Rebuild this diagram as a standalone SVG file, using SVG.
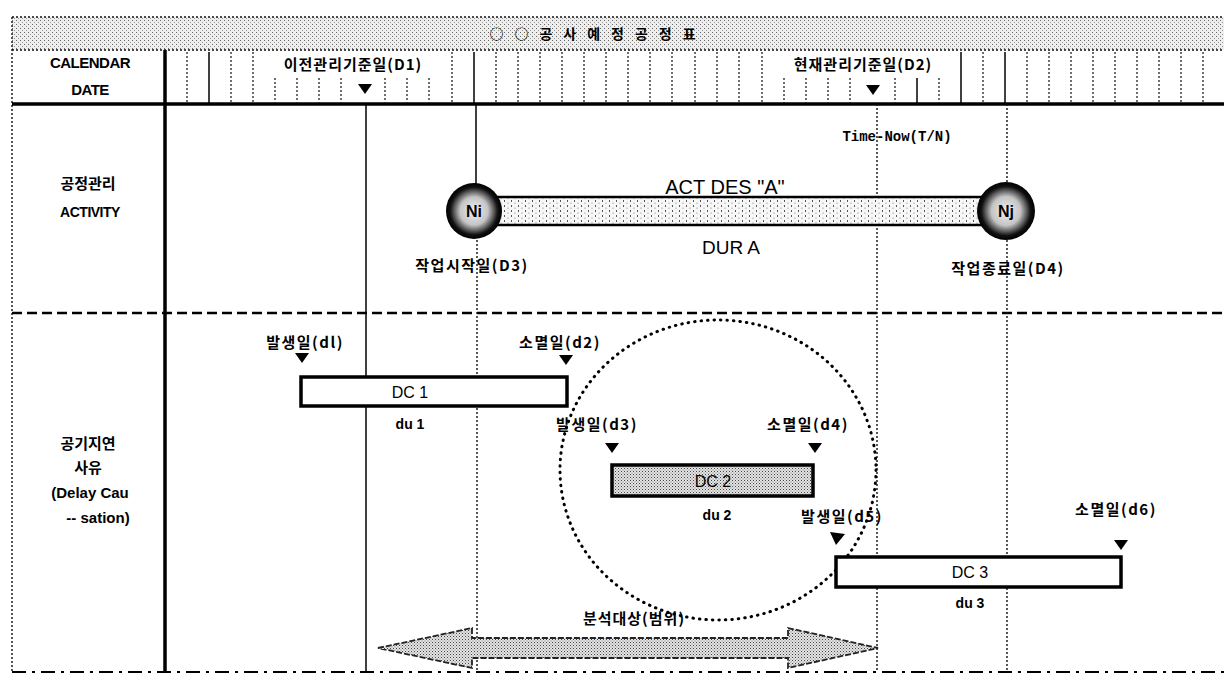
<svg xmlns="http://www.w3.org/2000/svg" width="1224" height="675" viewBox="0 0 1224 675">
<defs>
<pattern id="halftone" width="3" height="3" patternUnits="userSpaceOnUse">
<rect width="3" height="3" fill="#e4e4e4"/>
<rect width="1" height="1" fill="#444"/>
<rect x="1.5" y="1.5" width="1" height="1" fill="#777"/>
</pattern>
<pattern id="lighttone" width="4" height="4" patternUnits="userSpaceOnUse">
<rect width="4" height="4" fill="#eeeeee"/>
<rect width="1" height="1" fill="#666"/>
<rect x="2" y="2" width="1" height="1" fill="#999"/>
</pattern>
<pattern id="barfill" width="7" height="5" patternUnits="userSpaceOnUse">
<rect width="7" height="5" fill="#f7f7f7"/>
<rect x="0" y="0" width="1" height="2" fill="#555"/>
<rect x="3.5" y="2.5" width="1" height="1.5" fill="#aaa"/>
</pattern>
<radialGradient id="node" cx="50%" cy="50%" r="50%">
<stop offset="0" stop-color="#f0f0f0"/>
<stop offset="0.5" stop-color="#c4c4c4"/>
<stop offset="0.72" stop-color="#555"/>
<stop offset="0.85" stop-color="#111"/>
<stop offset="1" stop-color="#000"/>
</radialGradient>
<style>
.t{font-family:"Liberation Sans","Noto Sans CJK KR",sans-serif;fill:#000}
.k{font-family:"Noto Sans CJK KR","Liberation Sans",sans-serif;font-weight:700;fill:#000}
.b{font-weight:700}
.tick{stroke:#222;stroke-width:1.3;stroke-dasharray:2 2}
.tickS{stroke:#000;stroke-width:1.5}
.vsolid{stroke:#000;stroke-width:1.5;fill:none}
.vdot{stroke:#111;stroke-width:1.4;stroke-dasharray:2 2;fill:none}
.box{fill:#fff;stroke:#000;stroke-width:3.5}
.tri{fill:#000}
</style>
</defs>

<g id="frame">
<rect x="12" y="17" width="1214" height="33" fill="url(#lighttone)"/>
<line x1="12" y1="17" x2="1224" y2="17" class="vdot"/>
<line x1="12" y1="50" x2="1224" y2="50" class="vdot"/>
<line x1="12" y1="17" x2="12" y2="672" class="vdot"/>
<line x1="12" y1="104" x2="1224" y2="104" stroke="#000" stroke-width="3.5"/>
<line x1="165" y1="50" x2="165" y2="672" stroke="#000" stroke-width="3.5"/>
<line x1="12" y1="313" x2="1224" y2="313" stroke="#000" stroke-width="2.5" stroke-dasharray="10 5"/>
<line x1="12" y1="672" x2="1224" y2="672" stroke="#000" stroke-width="2" stroke-dasharray="14 6 3 6"/>
<text x="598" y="39" class="k" font-size="14" text-anchor="middle" letter-spacing="11">○○공사예정공정표</text>
</g>

<g id="calendar-header">
<text x="90" y="68" class="t b" font-size="15" text-anchor="middle" letter-spacing="-0.5">CALENDAR</text>
<text x="90" y="95" class="t b" font-size="15" text-anchor="middle" letter-spacing="-0.5">DATE</text>
<g id="ticks">
<line x1="187" y1="52" x2="187" y2="103" class="tick"/>
<line x1="209" y1="52" x2="209" y2="103" class="tickS"/>
<line x1="231" y1="52" x2="231" y2="103" class="tick"/>
<line x1="253" y1="52" x2="253" y2="103" class="tick"/>
<line x1="275" y1="78" x2="275" y2="103" class="tick"/>
<line x1="297" y1="78" x2="297" y2="103" class="tick"/>
<line x1="319" y1="78" x2="319" y2="103" class="tick"/>
<line x1="341" y1="78" x2="341" y2="103" class="tick"/>
<line x1="385" y1="78" x2="385" y2="103" class="tick"/>
<line x1="407" y1="78" x2="407" y2="103" class="tick"/>
<line x1="429" y1="78" x2="429" y2="103" class="tick"/>
<line x1="452" y1="52" x2="452" y2="103" class="tick"/>
<line x1="474" y1="52" x2="474" y2="103" class="tickS"/>
<line x1="496" y1="52" x2="496" y2="103" class="tick"/>
<line x1="518" y1="52" x2="518" y2="103" class="tick"/>
<line x1="540" y1="52" x2="540" y2="103" class="tick"/>
<line x1="562" y1="52" x2="562" y2="103" class="tick"/>
<line x1="584" y1="52" x2="584" y2="103" class="tick"/>
<line x1="606" y1="52" x2="606" y2="103" class="tick"/>
<line x1="628" y1="52" x2="628" y2="103" class="tick"/>
<line x1="650" y1="52" x2="650" y2="103" class="tick"/>
<line x1="672" y1="52" x2="672" y2="103" class="tick"/>
<line x1="695" y1="52" x2="695" y2="103" class="tick"/>
<line x1="717" y1="52" x2="717" y2="103" class="tick"/>
<line x1="739" y1="52" x2="739" y2="103" class="tick"/>
<line x1="762" y1="52" x2="762" y2="103" class="tick"/>
<line x1="784" y1="78" x2="784" y2="103" class="tick"/>
<line x1="806" y1="78" x2="806" y2="103" class="tick"/>
<line x1="828" y1="78" x2="828" y2="103" class="tick"/>
<line x1="850" y1="78" x2="850" y2="103" class="tick"/>
<line x1="895" y1="78" x2="895" y2="103" class="tick"/>
<line x1="917" y1="78" x2="917" y2="103" class="tickS"/>
<line x1="939" y1="78" x2="939" y2="103" class="tick"/>
<line x1="961" y1="52" x2="961" y2="103" class="tickS"/>
<line x1="983" y1="52" x2="983" y2="103" class="tick"/>
<line x1="1005" y1="52" x2="1005" y2="103" class="tickS"/>
<line x1="1027" y1="52" x2="1027" y2="103" class="tick"/>
<line x1="1049" y1="52" x2="1049" y2="103" class="tick"/>
<line x1="1071" y1="52" x2="1071" y2="103" class="tick"/>
<line x1="1093" y1="52" x2="1093" y2="103" class="tick"/>
<line x1="1115" y1="52" x2="1115" y2="103" class="tick"/>
<line x1="1137" y1="52" x2="1137" y2="103" class="tick"/>
<line x1="1159" y1="52" x2="1159" y2="103" class="tick"/>
<line x1="1181" y1="52" x2="1181" y2="103" class="tick"/>
<line x1="1203" y1="52" x2="1203" y2="103" class="tick"/>
</g>
<rect x="256" y="54" width="194" height="22" fill="#fff"/>
<text x="353" y="70" class="k" font-size="15" text-anchor="middle" letter-spacing="1">이전관리기준일(D1)</text>
<rect x="766" y="54" width="194" height="22" fill="#fff"/>
<text x="863" y="70" class="k" font-size="15" text-anchor="middle" letter-spacing="1">현재관리기준일(D2)</text>
<polygon class="tri" points="358,84 372,84 365,94"/>
<polygon class="tri" points="866,85 880,85 873,95"/>
</g>

<g id="row-labels">
<text x="88" y="189" class="k" font-size="15" text-anchor="middle">공정관리</text>
<text x="90" y="217" class="t b" font-size="14" text-anchor="middle" letter-spacing="-0.5">ACTIVITY</text>
<text x="88" y="449" class="k" font-size="15" text-anchor="middle">공기지연</text>
<text x="88" y="473" class="k" font-size="15" text-anchor="middle">사유</text>
<text x="90" y="498" class="t b" font-size="15" text-anchor="middle">(Delay Cau</text>
<text x="98" y="523" class="t b" font-size="15" text-anchor="middle">-- sation)</text>
</g>

<g id="connectors">
<line x1="366" y1="104" x2="366" y2="672" class="vsolid"/>
<line x1="476" y1="104" x2="476" y2="190" class="vsolid"/>
<line x1="477" y1="232" x2="477" y2="672" class="vdot"/>
<line x1="877" y1="104" x2="877" y2="672" class="vdot"/>
<line x1="1007" y1="104" x2="1007" y2="672" class="vdot"/>
</g>

<g id="activity-A">
<rect x="495" y="197" width="490" height="28" fill="url(#barfill)" stroke="none"/>
<line x1="495" y1="197" x2="985" y2="197" stroke="#000" stroke-width="2.5"/>
<line x1="495" y1="225" x2="985" y2="225" stroke="#000" stroke-width="2.5"/>
<text x="725" y="194" class="t" font-size="20" text-anchor="middle">ACT  DES "A"</text>
<text x="731" y="254" class="t" font-size="19" text-anchor="middle">DUR A</text>
</g>

<g id="node-Ni">
<circle cx="474" cy="211" r="28" fill="url(#node)"/>
<text x="474" y="217" class="t b" font-size="16" text-anchor="middle">Ni</text>
<text x="472" y="271" class="k" font-size="15" text-anchor="middle" letter-spacing="1.5">작업시작일(D3)</text>
</g>

<g id="node-Nj">
<circle cx="1006" cy="211" r="29" fill="url(#node)"/>
<text x="1006" y="217" class="t b" font-size="16" text-anchor="middle">Nj</text>
<text x="1008" y="274" class="k" font-size="15" text-anchor="middle" letter-spacing="1.5">작업종료일(D4)</text>
</g>

<g id="time-now">
<text x="897" y="141" font-family="Liberation Mono, monospace" font-weight="700" font-size="14" text-anchor="middle">Time-Now(T/N)</text>
</g>

<g id="analysis-circle">
<ellipse cx="718" cy="470" rx="158" ry="150" fill="none" stroke="#000" stroke-width="3" stroke-dasharray="0.5 6" stroke-linecap="round"/>
</g>

<g id="DC1">
<text x="305" y="348" class="k" font-size="15" text-anchor="middle" letter-spacing="1.5">발생일(dl)</text>
<polygon class="tri" points="295,353 309,353 302,363"/>
<text x="560" y="348" class="k" font-size="15" text-anchor="middle" letter-spacing="1.5">소멸일(d2)</text>
<polygon class="tri" points="559,355 573,355 566,365"/>
<rect x="301" y="377" width="266" height="29" class="box"/>
<text x="410" y="398" class="t" font-size="16" text-anchor="middle">DC 1</text>
<text x="410" y="429" class="t b" font-size="14" text-anchor="middle">du 1</text>
</g>

<g id="DC2">
<text x="597" y="430" class="k" font-size="15" text-anchor="middle" letter-spacing="1.5">발생일(d3)</text>
<polygon class="tri" points="605,443 619,443 612,453"/>
<text x="808" y="430" class="k" font-size="15" text-anchor="middle" letter-spacing="1.5">소멸일(d4)</text>
<polygon class="tri" points="808,443 822,443 815,453"/>
<rect x="612" y="465" width="201" height="31" fill="url(#halftone)" stroke="#000" stroke-width="3.5"/>
<text x="713" y="487" class="t" font-size="16" text-anchor="middle">DC 2</text>
<text x="717" y="520" class="t b" font-size="14" text-anchor="middle">du 2</text>
</g>

<g id="DC3">
<text x="842" y="522" class="k" font-size="15" text-anchor="middle" letter-spacing="1.5">발생일(d5)</text>
<polygon class="tri" points="830,532 845,534 836,545"/>
<text x="1116" y="515" class="k" font-size="15" text-anchor="middle" letter-spacing="1.5">소멸일(d6)</text>
<polygon class="tri" points="1114,540 1128,540 1121,550"/>
<rect x="836" y="557" width="285" height="30" class="box"/>
<text x="970" y="578" class="t" font-size="16" text-anchor="middle">DC 3</text>
<text x="970" y="608" class="t b" font-size="14" text-anchor="middle">du 3</text>
</g>

<g id="analysis-range">
<polygon points="378,648 472,628 472,638 788,638 788,628 878,648 788,668 788,658 472,658 472,668" fill="url(#halftone)" stroke="#222" stroke-width="1.8" stroke-dasharray="6 2"/>
<text x="634" y="624" class="k" font-size="15" text-anchor="middle" letter-spacing="1">분석대상(범위)</text>
</g>
</svg>
